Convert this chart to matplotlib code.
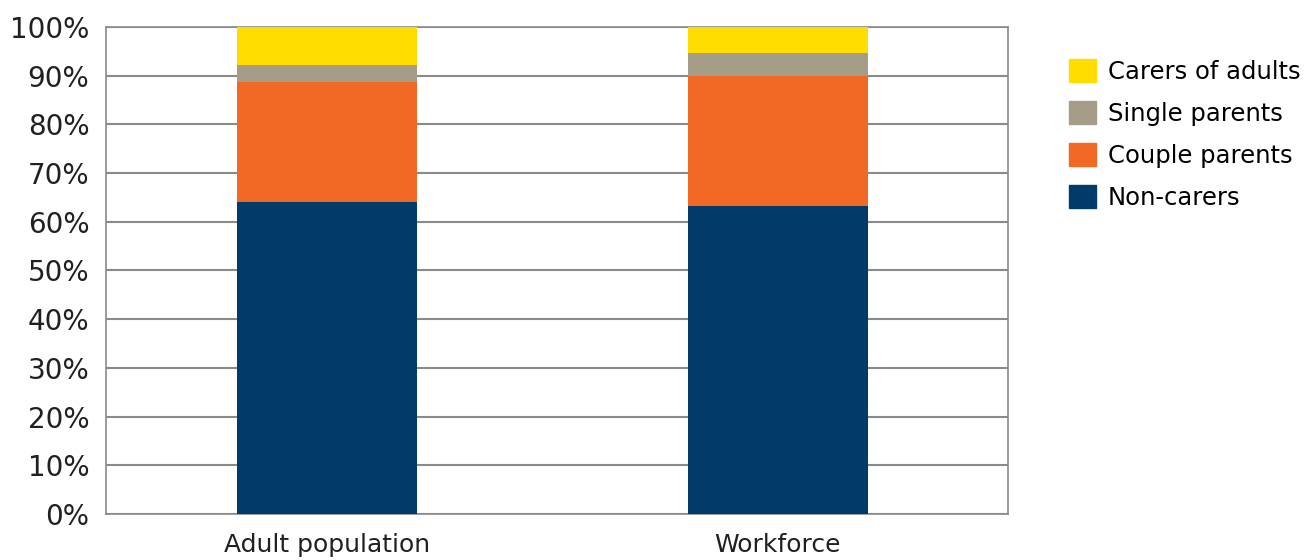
import matplotlib.pyplot as plt
from matplotlib.patches import Patch

# data (percent of each group)
groups = ['Adult population', 'Workforce']
series = ['Non-carers', 'Couple parents', 'Single parents', 'Carers of adults']
non_carers = [64.1, 63.2]
couple_parents = [24.6, 26.7]
single_parents = [3.5, 4.8]
carers_adults = [7.8, 5.3]
yticks = [0, 10, 20, 30, 40, 50, 60, 70, 80, 90, 100]

colours = ['#003B69', '#F26925', '#A59D87', '#FFDD00']

plt.rcParams['font.family'] = ['DejaVu Sans']

fig = plt.figure(figsize=(13.1, 5.6), dpi=100)
ax = fig.add_axes([0.0809, 0.0821, 0.6886, 0.8699])

x = list(range(len(groups)))
bottom = [0, 0]
for vals, col in zip([non_carers, couple_parents, single_parents, carers_adults], colours):
    ax.bar(x, vals, width=0.4, bottom=bottom, color=col, zorder=3)
    bottom = [b + v for b, v in zip(bottom, vals)]

ax.set_xlim(-0.492, 1.512)
ax.set_ylim(0, 100)
ax.set_yticks(yticks)
ax.set_yticklabels([str(t) + '%' for t in yticks], fontsize=20, color='#231f20')
ax.set_xticks(x)
ax.set_xticklabels(groups, fontsize=18, color='#231f20')
ax.tick_params(axis='y', length=0, pad=12)
ax.tick_params(axis='x', length=0, pad=14)
ax.grid(axis='y', color='#8a8a8a', linewidth=1.5, zorder=0)
for s in ax.spines.values():
    s.set_color('#8a8a8a')
    s.set_linewidth(1.2)

handles = [Patch(color=c) for c in colours[::-1]]
fig.legend(handles, series[::-1], loc='upper left', bbox_to_anchor=(0.8085, 0.912),
           frameon=False, fontsize=17.5, handlelength=1.1, handleheight=1.1,
           handletextpad=0.5, labelspacing=0.7, borderaxespad=0)

fig.savefig('out.png', dpi=100)
